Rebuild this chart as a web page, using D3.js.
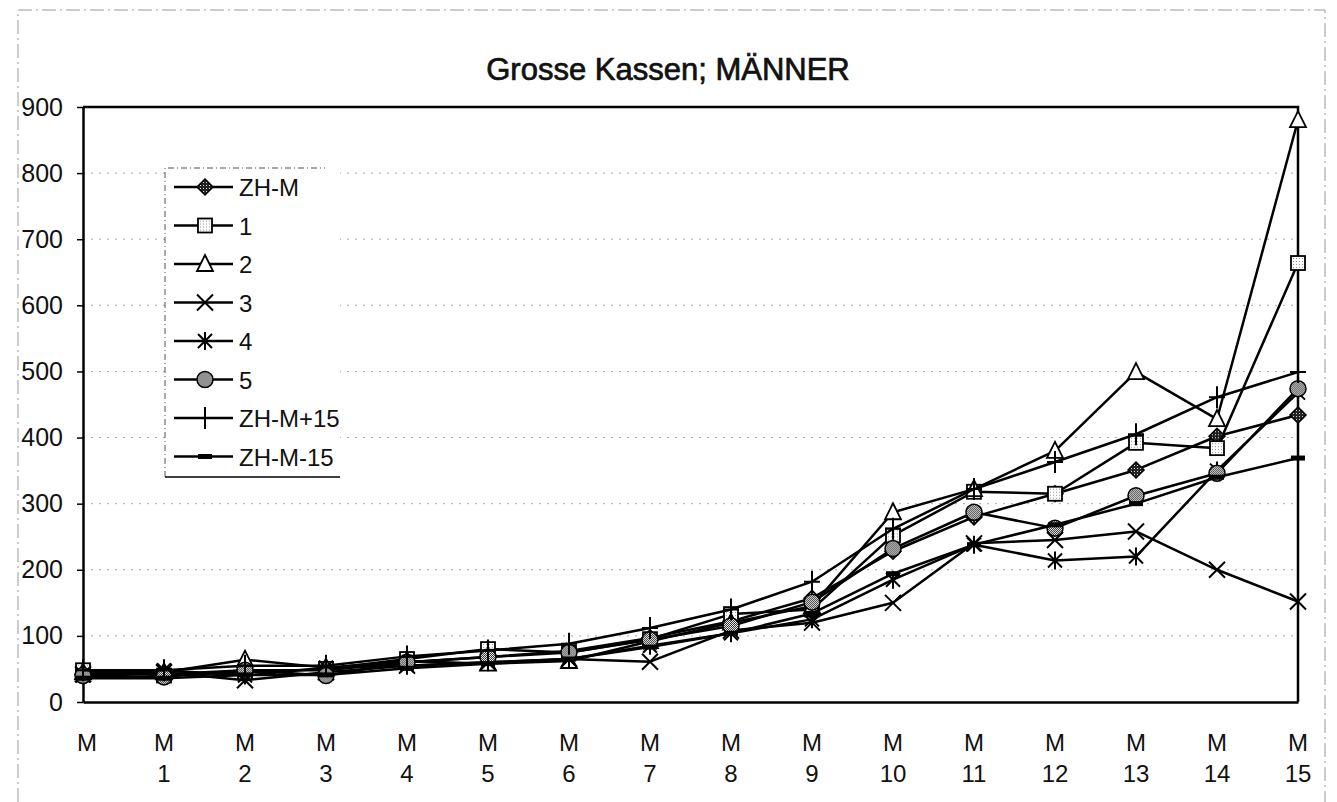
<!DOCTYPE html>
<html>
<head>
<meta charset="utf-8">
<script src="https://cdn.jsdelivr.net/npm/d3@7/dist/d3.min.js"></script>
<style>
body{margin:0;background:#fff;}
text{font-family:'Liberation Sans',Arial,sans-serif;fill:#111;}
</style>
</head>
<body>
<svg class="chart" width="1337" height="802"></svg>
<script>
var width = 1337,
	height = 802,
	plotLeft = 83,
	plotRight = 1298,
	plotTop = 107,
	plotBottom = 702;

// categories (M, M 1 ... M 15) and y ticks
var categories = ['', '1', '2', '3', '4', '5', '6', '7', '8', '9', '10', '11', '12', '13', '14', '15'];
var yTicks = [0, 100, 200, 300, 400, 500, 600, 700, 800, 900];

var seriesNames = ['ZH-M', '1', '2', '3', '4', '5', 'ZH-M+15', 'ZH-M-15'];
var seriesMarkers = ['diamond', 'square', 'triangle', 'cross', 'asterisk', 'circle', 'plus', 'dash'];

// values
var zhM     = [42, 42, 48, 48, 60, 68, 77, 97, 122, 157, 228, 280, 315, 351, 402, 434];
var kasse1  = [48, 40, 45, 50, 65, 80, 75, 95, 133, 140, 252, 318, 315, 392, 384, 664];
var kasse2  = [45, 45, 64, 52, 62, 58, 62, 92, 120, 145, 287, 322, 380, 499, 428, 880];
var kasse3  = [42, 45, 33, 45, 55, 60, 65, 61, 108, 120, 150, 240, 245, 258, 200, 152];
var kasse4  = [40, 48, 40, 52, 55, 60, 65, 85, 104, 125, 185, 238, 214, 220, 350, 468];
var kasse5  = [40, 38, 48, 40, 60, 68, 75, 94, 115, 151, 232, 287, 263, 312, 346, 474];
var zhMplus = [48, 48, 55, 55, 69, 78, 88, 112, 140, 182, 262, 322, 363, 405, 461, 499];
var zhMminus = [36, 36, 41, 41, 51, 58, 65, 83, 104, 134, 194, 238, 268, 300, 340, 369];

var seriesValues = [zhM, kasse1, kasse2, kasse3, kasse4, kasse5, zhMplus, zhMminus];

var chart = d3.select('.chart');

// fill patterns (scanned look)
var defs = chart.append('defs');
var pDark = defs.append('pattern').attr('id', 'darkDots')
	.attr('width', 3).attr('height', 3).attr('patternUnits', 'userSpaceOnUse');
pDark.append('rect').attr('width', 3).attr('height', 3).attr('fill', '#222');
pDark.append('rect').attr('x', 1).attr('y', 1).attr('width', 1).attr('height', 1).attr('fill', '#ddd');

var pMid = defs.append('pattern').attr('id', 'midDots')
	.attr('width', 2).attr('height', 2).attr('patternUnits', 'userSpaceOnUse');
pMid.append('rect').attr('width', 2).attr('height', 2).attr('fill', '#eee');
pMid.append('rect').attr('width', 1).attr('height', 1).attr('fill', '#333');
pMid.append('rect').attr('x', 1).attr('y', 1).attr('width', 1).attr('height', 1).attr('fill', '#333');

var pLight = defs.append('pattern').attr('id', 'lightDots')
	.attr('width', 3).attr('height', 3).attr('patternUnits', 'userSpaceOnUse');
pLight.append('rect').attr('width', 3).attr('height', 3).attr('fill', '#fff');
pLight.append('rect').attr('x', 1).attr('y', 1).attr('width', 1).attr('height', 1).attr('fill', '#999');

// scan border
chart.append('path')
	.attr('d', 'M18,802L18,10L1325,10L1325,802')
	.attr('fill', 'none')
	.attr('stroke', '#999')
	.attr('stroke-width', 1)
	.attr('stroke-dasharray', '14,4,2,4');

//Scales
var xScale = d3.scalePoint()
	.domain(d3.range(categories.length))
	.range([plotLeft, plotRight]);

var yScale = d3.scaleLinear()
	.domain([0, 900])
	.range([plotBottom, plotTop]);

//Gridlines
chart.append('g')
	.selectAll('line')
	.data(yTicks.filter(d => d > 0 && d < 900))
	.enter()
	.append('line')
	.attr('x1', plotLeft)
	.attr('x2', plotRight)
	.attr('y1', d => yScale(d))
	.attr('y2', d => yScale(d))
	.attr('stroke', '#aaa')
	.attr('stroke-width', 1)
	.attr('stroke-dasharray', '2,6');

//Frame top / right
chart.append('path')
	.attr('d', 'M' + plotLeft + ',' + plotTop + 'L' + plotRight + ',' + plotTop + 'L' + plotRight + ',' + plotBottom)
	.attr('fill', 'none')
	.attr('stroke', '#000')
	.attr('stroke-width', 2.5);

//Y axis
var yAxis = chart.append('g')
	.attr('transform', 'translate(' + plotLeft + ',0)')
	.call(d3.axisLeft(yScale).tickValues(yTicks).tickSize(6).tickPadding(14).tickSizeOuter(0));
yAxis.select('.domain').attr('stroke-width', 2.5);
yAxis.selectAll('.tick line').attr('stroke-width', 1.5);
yAxis.selectAll('text')
	.attr('font-size', 25)
	.attr('font-family', "'Liberation Sans',Arial,sans-serif")
	.attr('fill', '#111');

//X axis
var xAxis = chart.append('g')
	.attr('transform', 'translate(0,' + plotBottom + ')')
	.call(d3.axisBottom(xScale).tickSize(0).tickSizeOuter(0).tickFormat(''));
xAxis.select('.domain').attr('stroke-width', 2.5);

var xLabels = chart.append('g')
	.selectAll('text')
	.data(categories)
	.enter()
	.append('text')
	.attr('text-anchor', 'middle')
	.attr('font-size', 24)
	.attr('x', (d, i) => xScale(i) + (i === 0 ? 4 : 0));
xLabels.append('tspan').attr('y', 751).text('M');
xLabels.append('tspan')
	.attr('x', (d, i) => xScale(i))
	.attr('y', 782)
	.text(d => d);

//Title
chart.append('text')
	.attr('text-anchor', 'middle')
	.attr('x', 668)
	.attr('y', 80)
	.attr('font-size', 31)
	.attr('stroke', '#111')
	.attr('stroke-width', 0.7)
	.text('Grosse Kassen; MÄNNER');

//Markers
function drawMarker(sel, type) {
	if (type === 'diamond') {
		sel.append('path').attr('d', 'M0,-8L8,0L0,8L-8,0Z')
			.attr('fill', 'url(#darkDots)').attr('stroke', '#000').attr('stroke-width', 1.5);
	} else if (type === 'square') {
		sel.append('rect').attr('x', -7).attr('y', -7).attr('width', 14).attr('height', 14)
			.attr('fill', 'url(#lightDots)').attr('stroke', '#000').attr('stroke-width', 1.8);
	} else if (type === 'triangle') {
		sel.append('path').attr('d', 'M0,-9L8,7L-8,7Z')
			.attr('fill', '#fff').attr('stroke', '#000').attr('stroke-width', 1.8);
	} else if (type === 'cross') {
		sel.append('path').attr('d', 'M-8,-8L8,8M-8,8L8,-8')
			.attr('stroke', '#000').attr('stroke-width', 2);
	} else if (type === 'asterisk') {
		sel.append('path').attr('d', 'M-7,-7L7,7M-7,7L7,-7M0,-9L0,9')
			.attr('stroke', '#000').attr('stroke-width', 2);
	} else if (type === 'circle') {
		sel.append('circle').attr('r', 8)
			.attr('fill', 'url(#midDots)').attr('stroke', '#000').attr('stroke-width', 1.5);
	} else if (type === 'plus') {
		sel.append('path').attr('d', 'M-8,0L8,0M0,-11L0,11')
			.attr('stroke', '#000').attr('stroke-width', 2);
	} else if (type === 'dash') {
		sel.append('rect').attr('x', -7).attr('y', -2.5).attr('width', 14).attr('height', 5)
			.attr('fill', '#000');
	}
}

//Lines
var lineGen = d3.line()
	.x((d, i) => xScale(i))
	.y(d => yScale(d));

var seriesGroups = chart.append('g')
	.selectAll('g')
	.data(seriesValues)
	.enter()
	.append('g');

seriesGroups.append('path')
	.attr('d', d => lineGen(d))
	.attr('fill', 'none')
	.attr('stroke', '#000')
	.attr('stroke-width', 2.5)
	.attr('stroke-linejoin', 'round');

seriesGroups.each(function(vals, s) {
	d3.select(this).selectAll('g.pt')
		.data(vals)
		.enter()
		.append('g')
		.attr('class', 'pt')
		.attr('transform', (d, i) => 'translate(' + xScale(i) + ',' + yScale(d) + ')')
		.each(function() { drawMarker(d3.select(this), seriesMarkers[s]); });
});

//Legend
var legend = chart.append('g');

legend.append('rect')
	.attr('x', 165).attr('y', 168).attr('width', 175).attr('height', 309)
	.attr('fill', '#fff');
legend.append('path')
	.attr('d', 'M165,477L165,168L325,168')
	.attr('fill', 'none')
	.attr('stroke', '#555')
	.attr('stroke-width', 1)
	.attr('stroke-dasharray', '6,3,1,3');
legend.append('line')
	.attr('x1', 165).attr('x2', 340).attr('y1', 477).attr('y2', 477)
	.attr('stroke', '#000').attr('stroke-width', 1.5);

var legendItems = legend.selectAll('g.item')
	.data(seriesNames)
	.enter()
	.append('g')
	.attr('class', 'item')
	.attr('transform', (d, i) => 'translate(0,' + (187 + i * 38.5) + ')');

legendItems.append('line')
	.attr('x1', 174).attr('x2', 233)
	.attr('stroke', '#000').attr('stroke-width', 2.5);

legendItems.append('g')
	.attr('transform', 'translate(205,0)')
	.each(function(d, i) { drawMarker(d3.select(this), seriesMarkers[i]); });

legendItems.append('text')
	.attr('x', 239)
	.attr('y', 9)
	.attr('font-size', 24)
	.text(d => d);
</script>
</body>
</html>
